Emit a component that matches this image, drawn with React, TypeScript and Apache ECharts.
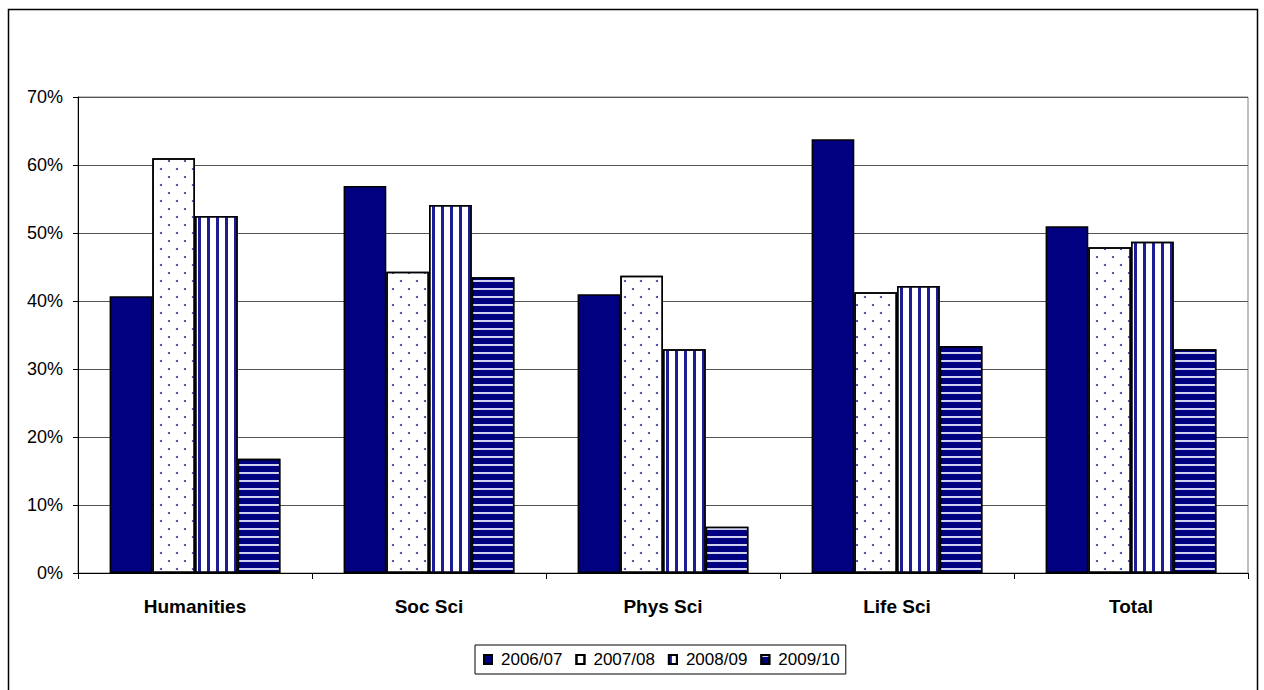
import React, { useEffect, useRef } from "react";
import * as echarts from "echarts";

const categories = ["Humanities", "Soc Sci", "Phys Sci", "Life Sci", "Total"];
const seriesNames = ["2006/07", "2007/08", "2008/09", "2009/10"];
const v2006 = [40.7, 56.9, 41.0, 63.8, 51.0];
const v2007 = [61.0, 44.3, 43.7, 41.3, 47.9];
const v2008 = [52.5, 54.1, 32.9, 42.2, 48.7];
const v2009 = [16.8, 43.5, 6.8, 33.4, 32.9];
const yTicks = [0, 10, 20, 30, 40, 50, 60, 70];

const NAVY = "#000080";
const FONT = "'Liberation Sans', Arial, sans-serif";

export default function App() {
  const ref = useRef<HTMLDivElement>(null);
  useEffect(() => {
    if (!ref.current) return;
    const chart = echarts.init(ref.current, null, { renderer: "svg" });
    const border = { borderColor: "#000", borderWidth: 1.5 };
    const styles: any[] = [
      { color: NAVY, ...border },
      {
        color: "#fff",
        ...border,
        decal: {
          symbol: "circle",
          symbolSize: 1,
          color: "#2a2aa0",
          dashArrayX: [[2, 14], [0, 8, 2, 6]],
          dashArrayY: [2, 6],
        },
      },
      {
        color: "#fff",
        ...border,
        decal: {
          symbol: "rect",
          symbolSize: 1,
          color: "#1c1c94",
          dashArrayX: [2.5, 5.5],
          dashArrayY: [1, 0],
        },
      },
      {
        color: NAVY,
        ...border,
        decal: {
          symbol: "rect",
          symbolSize: 1,
          color: "#d0d0f0",
          dashArrayX: [1, 0],
          dashArrayY: [2, 5.2],
        },
      },
    ];
    const data = [v2006, v2007, v2008, v2009];
    chart.setOption({
      animation: false,
      backgroundColor: "#fff",
      textStyle: { fontFamily: FONT },
      graphic: [
        {
          type: "rect",
          shape: { x: 8.5, y: 9.5, width: 1249, height: 700 },
          style: { fill: "none", stroke: "#000", lineWidth: 1.5 },
          silent: true,
        },
      ],
      grid: {
        left: 78,
        right: 16,
        top: 97,
        bottom: 117,
        show: true,
        borderColor: "#808080",
        borderWidth: 1,
        containLabel: false,
      },
      legend: {
        left: 475,
        top: 645,
        data: seriesNames,
        icon: "rect",
        itemWidth: 8,
        itemHeight: 9,
        itemGap: 13,
        padding: [6, 6, 6, 8],
        borderColor: "#000",
        borderWidth: 1,
        textStyle: { fontSize: 17, color: "#000", fontFamily: FONT, padding: [0, 0, 0, 4] },
      },
      xAxis: {
        type: "category",
        data: categories,
        axisLine: { lineStyle: { color: "#000", width: 1 } },
        axisTick: { show: true, alignWithLabel: false, length: 6, lineStyle: { color: "#000" } },
        axisLabel: {
          color: "#000",
          fontSize: 19,
          fontWeight: "bold",
          margin: 24,
          fontFamily: FONT,
        },
      },
      yAxis: {
        type: "value",
        min: yTicks[0],
        max: yTicks[yTicks.length - 1],
        interval: 10,
        axisLine: { show: true, lineStyle: { color: "#000", width: 1 } },
        axisTick: { show: true, length: 5, lineStyle: { color: "#000" } },
        axisLabel: {
          color: "#000",
          fontSize: 18,
          margin: 15,
          formatter: "{value}%",
          fontFamily: FONT,
        },
        splitLine: { show: true, lineStyle: { color: "#555", width: 1 } },
      },
      series: seriesNames.map((name, i) => ({
        name,
        type: "bar",
        data: data[i],
        barGap: "0%",
        barCategoryGap: "27%",
        itemStyle: styles[i],
      })),
    });
    return () => chart.dispose();
  }, []);
  return (
    <div
      ref={ref}
      style={{ position: "fixed", left: 0, top: 0, width: 1264, height: 690 }}
    />
  );
}
